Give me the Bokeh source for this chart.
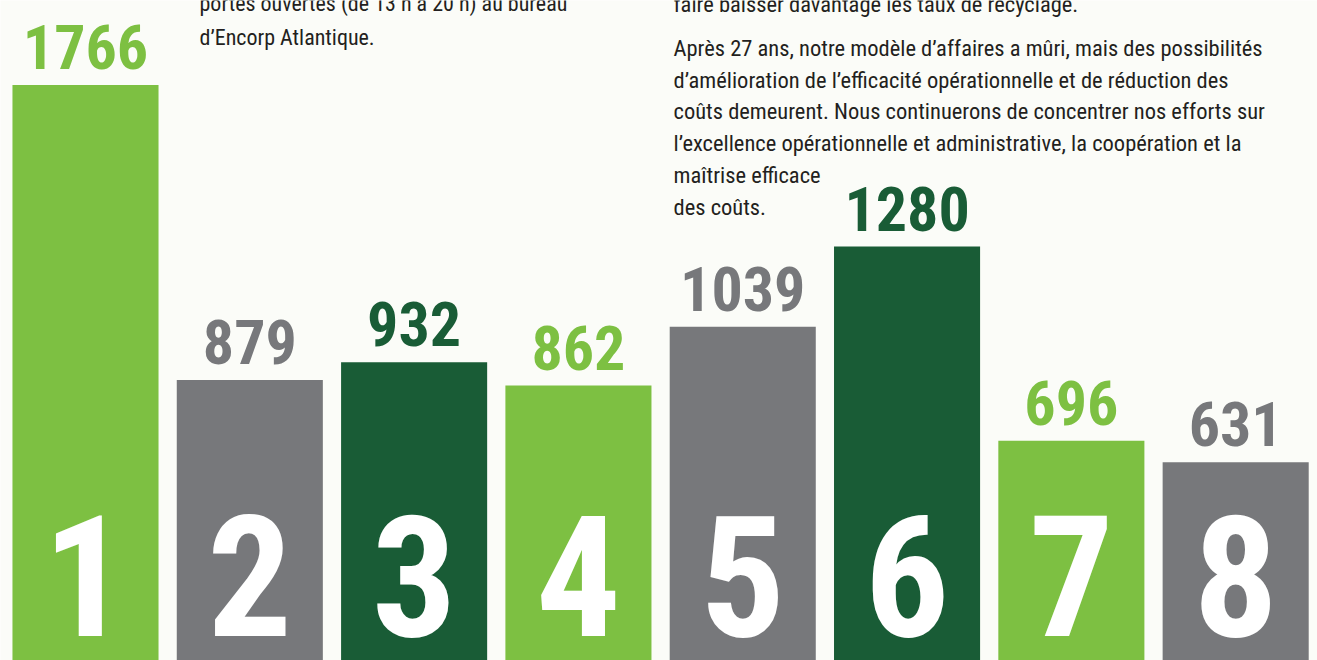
from bokeh.plotting import figure
from bokeh.models import Range1d, Label, ColumnDataSource
from bokeh.core.properties import value
from bokeh.embed import file_html
from bokeh.resources import INLINE

# ---- data ----
ranks = ["1", "2", "3", "4", "5", "6", "7", "8"]
positions = [1, 2, 3, 4, 5, 6, 7, 8]
tonnages = [1766, 879, 932, 862, 1039, 1280, 696, 631]
value_labels = ["1766", "879", "932", "862", "1039", "1280", "696", "631"]
bar_colors = ["#7dc042", "#77787b", "#195c36", "#7dc042",
              "#77787b", "#195c36", "#7dc042", "#77787b"]

left_text = [
    "portes ouvertes (de 13 h à 20 h) au bureau",
    "d’Encorp Atlantique.",
]
right_text = [
    "faire baisser davantage les taux de recyclage.",
    "Après 27 ans, notre modèle d’affaires a mûri, mais des possibilités",
    "d’amélioration de l’efficacité opérationnelle et de réduction des",
    "coûts demeurent. Nous continuerons de concentrer nos efforts sur",
    "l’excellence opérationnelle et administrative, la coopération et la",
    "maîtrise efficace",
    "des coûts.",
]

NUM_FONT = "Roboto Condensed"
BODY_FONT = "Roboto Condensed"
BG = "#fbfcf8"
TEXT_COLOR = "#231f20"

source = ColumnDataSource(dict(
    x=positions, top=tonnages, rank=ranks, lab=value_labels,
    color=bar_colors, zero=[0] * len(positions),
))

p = figure(width=1317, height=660,
           x_range=Range1d(0.4827, 8.498), y_range=Range1d(35, 2020),
           output_backend="svg", toolbar_location=None,
           x_axis_type=None, y_axis_type=None, min_border=0,
           background_fill_color=BG, border_fill_color=BG,
           outline_line_color=None)
p.grid.visible = False

p.vbar(x="x", top="top", bottom=0, width=0.889, color="color",
       line_color=None, source=source)

# value labels above bars
p.text(x="x", y="top", text="lab", source=source, text_color="color",
       text_font=value(NUM_FONT), text_font_style="bold",
       text_font_size="62px", text_align="center",
       text_baseline="alphabetic", y_offset=-38)

# big rank digits inside bars
p.text(x="x", y="zero", text="rank", source=source, text_color="white",
       text_font=value(NUM_FONT), text_font_style="bold",
       text_font_size="168px", text_align="center",
       text_baseline="alphabetic", y_offset=-97)

H = 660
left_baselines = [3, 37]
for t, b in zip(left_text, left_baselines):
    p.add_layout(Label(x=199, y=H - b, x_units="screen", y_units="screen",
                       text=t, text_font=BODY_FONT, text_font_size="22px",
                       text_color=TEXT_COLOR, text_baseline="alphabetic"))

right_baselines = [3, 47, 79, 110, 142, 174, 206]
for t, b in zip(right_text, right_baselines):
    p.add_layout(Label(x=673, y=H - b, x_units="screen", y_units="screen",
                       text=t, text_font=BODY_FONT, text_font_size="22.5px",
                       text_color=TEXT_COLOR, text_baseline="alphabetic"))

open("out.html", "w").write(file_html(p, INLINE))
